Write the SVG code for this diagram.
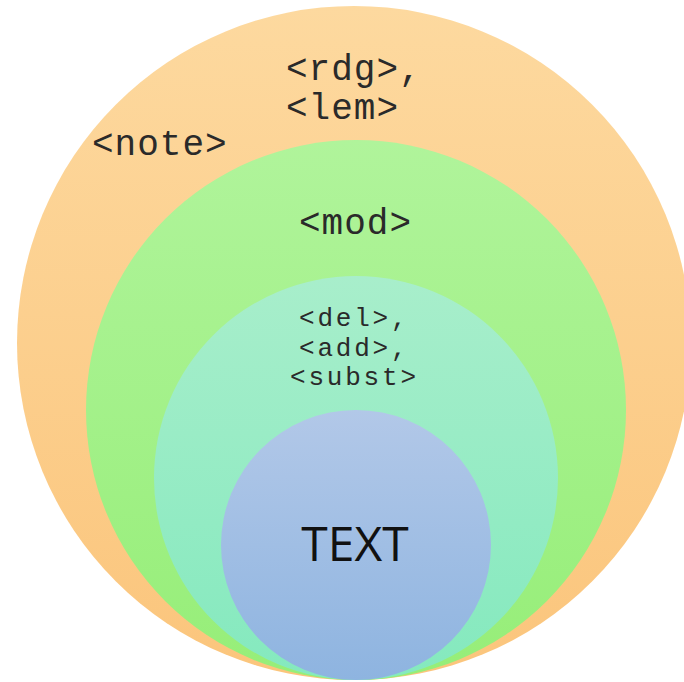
<svg xmlns="http://www.w3.org/2000/svg" width="684" height="682" viewBox="0 0 684 682">
<defs>
<linearGradient id="gO" x1="0" y1="0" x2="0" y2="1"><stop offset="0" stop-color="#FDD99F"/><stop offset="1" stop-color="#FBC57C"/></linearGradient>
<linearGradient id="gG" x1="0" y1="0" x2="0" y2="1"><stop offset="0" stop-color="#B0F49B"/><stop offset="1" stop-color="#96EE78"/></linearGradient>
<linearGradient id="gT" x1="0" y1="0" x2="0" y2="1"><stop offset="0" stop-color="#A8EECB"/><stop offset="1" stop-color="#84E9BE"/></linearGradient>
<linearGradient id="gB" x1="0" y1="0" x2="0" y2="1"><stop offset="0" stop-color="#B2C8E8"/><stop offset="1" stop-color="#8EB4E0"/></linearGradient>
<style>
.m{font-family:"Liberation Mono","Courier New",monospace;fill:#2a2a2a}
.big{font-size:36px;letter-spacing:1px}
.sm{font-size:26px;letter-spacing:2.8px}
.t{font-family:"Open Sans","Liberation Sans",sans-serif;font-size:48px;fill:#111}
</style>
</defs>
<rect width="684" height="682" fill="#fff"/>
<g id="outer"><circle cx="354" cy="343" r="337" fill="url(#gO)"/>
<text class="m big" x="286" y="80">&lt;rdg&gt;,</text>
<text class="m big" x="286" y="119">&lt;lem&gt;</text>
<text class="m big" x="92" y="155">&lt;note&gt;</text></g>
<g id="mod"><circle cx="356" cy="410" r="270" fill="url(#gG)"/>
<text class="m big" x="299" y="234">&lt;mod&gt;</text></g>
<g id="inner"><circle cx="356" cy="478" r="202" fill="url(#gT)"/>
<text class="m sm" x="299" y="326">&lt;del&gt;,</text>
<text class="m sm" x="299" y="355.5">&lt;add&gt;,</text>
<text class="m sm" x="290" y="385">&lt;subst&gt;</text></g>
<g id="text"><circle cx="356" cy="545" r="135" fill="url(#gB)"/>
<text class="t" x="355" y="561" text-anchor="middle">TEXT</text></g>
<g id="connectors"/>
</svg>
